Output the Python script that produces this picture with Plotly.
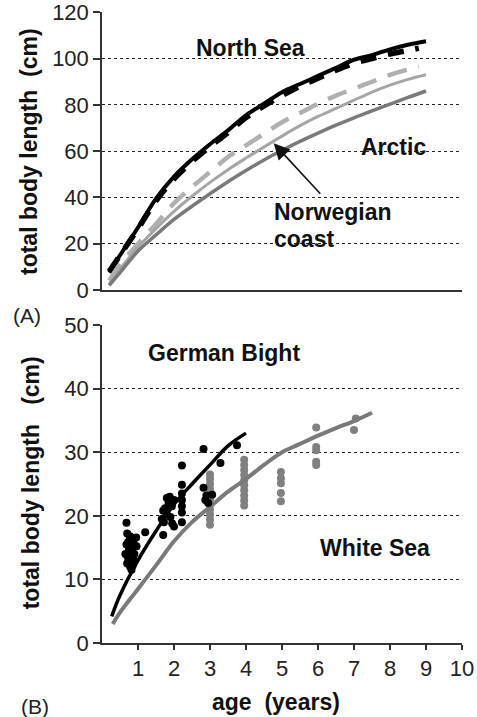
import plotly.graph_objects as go

# ---------------- data: panel A (growth curves) ----------------
ns_age = [0.2, 0.5, 1, 1.5, 2, 2.5, 3, 3.5, 4, 4.5, 5, 5.5, 6, 6.5, 7, 7.5, 8, 8.5, 9]
ns_solid = [7.5, 15, 27, 39.5, 49, 56.5, 63, 69, 75.5, 80.5, 85.5, 89, 92.5, 96, 99.5, 101.5, 104, 106, 107.5]
nsd_age = [0.2, 0.5, 1, 1.5, 2, 2.5, 3, 3.5, 4, 4.5, 5, 5.5, 6, 6.5, 7, 7.5, 8, 8.5, 8.8]
ns_dash = [8, 15, 26.5, 38.5, 48, 55.5, 62, 68, 74.5, 79.5, 84, 88, 91.5, 95, 98, 100, 102, 103.5, 104.5]
nc_dash = [4, 11, 20, 28.5, 37.5, 44.5, 51, 57.5, 62.5, 67.5, 72.5, 76.5, 80.5, 84, 87, 90, 93, 95.3, 96.5]
nc_solid = [2.5, 9, 18.5, 26.5, 34, 40.5, 46.5, 52, 57, 61.8, 66.5, 71, 75, 78.5, 82, 85.5, 88.5, 91, 93]
arctic = [2, 7.5, 16.8, 23.8, 30.5, 36.2, 41.6, 46.8, 51.6, 56.2, 60.3, 64.2, 67.8, 71.2, 74.4, 77.4, 80.3, 83.2, 86]

# ---------------- data: panel B (German Bight / White Sea) ----------------
gb_pts_age = [0.65, 0.68, 0.70, 0.72, 0.75, 0.78, 0.80, 0.82, 0.85, 0.88, 0.90, 0.70, 0.75, 0.80,
              0.85, 0.90, 0.72, 0.78, 0.83, 0.88, 0.95, 0.68, 0.73, 0.96, 1.20, 1.70, 1.66, 1.70,
              1.75, 1.80, 1.85, 1.90, 1.95, 2.00, 1.72, 1.80, 1.88, 1.94, 2.00, 2.22, 2.22, 2.22,
              2.22, 2.22, 2.22, 2.22, 2.82, 2.82, 2.87, 2.90, 2.95, 3.06, 3.29, 3.75]
gb_pts_len = [14.0, 15.5, 12.5, 13.5, 16.0, 12.0, 14.5, 11.5, 15.0, 13.0, 16.5, 17.2, 14.8, 13.2,
              12.2, 14.0, 15.8, 16.8, 13.8, 15.6, 16.6, 18.9, 12.8, 15.2, 17.4, 17.0, 19.5, 20.8,
              21.2, 22.8, 22.0, 19.8, 18.8, 22.5, 19.0, 20.2, 23.0, 21.5, 18.3, 27.9, 24.9, 23.5,
              22.5, 21.5, 20.5, 19.0, 30.5, 24.4, 22.5, 23.2, 22.0, 23.3, 28.3, 31.1]
gb_line_age = [0.27, 0.5, 1, 1.5, 2, 2.5, 3, 3.5, 4]
gb_line_len = [4.2, 7.5, 13, 17.6, 21.8, 25, 28, 31, 33]

ws_pts_age = [3.0] * 11 + [3.95] * 10 + [4.97] * 5 + [5.95] * 5 + [7.0, 7.05]
ws_pts_len = [18.6, 19.4, 20.2, 21.0, 21.8, 22.6, 23.4, 24.2, 25.0, 25.8, 26.5,
              21.6, 22.4, 23.2, 24.0, 24.8, 25.6, 26.4, 27.2, 28.0, 28.8,
              22.3, 23.6, 25.1, 25.9, 26.9,
              28.0, 28.5, 30.3, 30.8, 33.9,
              33.5, 35.3]
ws_line_age = [0.3, 0.5, 1, 1.5, 2, 2.5, 3, 3.5, 4, 4.5, 5, 5.5, 6, 6.5, 7, 7.5]
ws_line_len = [3.0, 4.8, 8.5, 12.2, 16, 19, 21.4, 23.8, 25.8, 28, 30, 31.3, 32.6, 33.8, 34.9, 36.2]

top_ticks = [0, 20, 40, 60, 80, 100, 120]
bot_yticks = [0, 10, 20, 30, 40, 50]
bot_xticks = [1, 2, 3, 4, 5, 6, 7, 8, 9, 10]

FONT = "Liberation Sans, Arial, sans-serif"
BLACK = "#000000"
LIGHT = "#b0b0b0"
LIGHT2 = "#a6a6a6"
DARK = "#7a7a7a"

W, H = 477, 717


def px(x):
    return x / W


def py(y):
    return 1 - y / H


fig = go.Figure()

# Panel A traces (xaxis/yaxis)
fig.add_trace(go.Scatter(x=ns_age, y=ns_solid, mode="lines", line=dict(color=BLACK, width=4, shape="spline"),
                         xaxis="x", yaxis="y", showlegend=False))
fig.add_trace(go.Scatter(x=nsd_age, y=ns_dash, mode="lines",
                         line=dict(color=BLACK, width=5.5, dash="16px,12px", shape="spline"),
                         xaxis="x", yaxis="y", showlegend=False))
fig.add_trace(go.Scatter(x=nsd_age, y=nc_dash, mode="lines",
                         line=dict(color=LIGHT, width=4.5, dash="20px,12px", shape="spline"),
                         xaxis="x", yaxis="y", showlegend=False))
fig.add_trace(go.Scatter(x=ns_age, y=nc_solid, mode="lines", line=dict(color=LIGHT2, width=3, shape="spline"),
                         xaxis="x", yaxis="y", showlegend=False))
fig.add_trace(go.Scatter(x=ns_age, y=arctic, mode="lines", line=dict(color=DARK, width=3.5, shape="spline"),
                         xaxis="x", yaxis="y", showlegend=False))

# Panel B traces (xaxis2/yaxis2)
fig.add_trace(go.Scatter(x=ws_pts_age, y=ws_pts_len, mode="markers",
                         marker=dict(color="#808080", size=8),
                         xaxis="x2", yaxis="y2", showlegend=False))
fig.add_trace(go.Scatter(x=ws_line_age, y=ws_line_len, mode="lines",
                         line=dict(color=DARK, width=4, shape="spline"),
                         xaxis="x2", yaxis="y2", showlegend=False))
fig.add_trace(go.Scatter(x=gb_pts_age, y=gb_pts_len, mode="markers",
                         marker=dict(color=BLACK, size=8),
                         xaxis="x2", yaxis="y2", showlegend=False))
fig.add_trace(go.Scatter(x=gb_line_age, y=gb_line_len, mode="lines",
                         line=dict(color=BLACK, width=3.5, shape="spline"),
                         xaxis="x2", yaxis="y2", showlegend=False))

xdom = [px(102), px(462)]
axis_common = dict(showline=True, linecolor="#333333", linewidth=1.5, zeroline=False, automargin=False,
                   ticklabeloverflow="allow",
                   tickfont=dict(family=FONT, size=22, color="#222222"))

fig.update_layout(
    template="none",
    width=W, height=H, autosize=False,
    margin=dict(l=0, r=0, t=0, b=0, pad=0, autoexpand=False),
    paper_bgcolor="white", plot_bgcolor="white",
    xaxis=dict(domain=xdom, range=[0, 10], anchor="y", showgrid=False, showticklabels=False,
               ticks="", **axis_common),
    yaxis=dict(domain=[py(290), py(12.3)], range=[0, 120], anchor="x",
               tickvals=top_ticks, ticks="outside", ticklen=7, tickcolor="#333333", tickwidth=1.5,
               showgrid=True, gridcolor="#222222", griddash="dot", gridwidth=1.3, **axis_common),
    xaxis2=dict(domain=xdom, range=[0, 10], anchor="y2", showgrid=False,
                tickvals=bot_xticks, ticks="outside", ticklen=5, tickcolor="#333333", tickwidth=1.5,
                **axis_common),
    yaxis2=dict(domain=[py(643), py(325)], range=[0, 50], anchor="x2",
                tickvals=bot_yticks, ticks="outside", ticklen=7, tickcolor="#333333", tickwidth=1.5,
                showgrid=True, gridcolor="#222222", griddash="dot", gridwidth=1.3, **axis_common),
)

bold = dict(family=FONT, size=23, color="#111111")
C = dict(xanchor="center", yanchor="middle", showarrow=False)
ann = []
# Panel A labels
ann.append(dict(x=4.12, y=104.6, xref="x", yref="y", text="<b>North Sea</b>", font=bold, **C))
ann.append(dict(x=8.09, y=62.0, xref="x", yref="y", text="<b>Arctic</b>", font=bold, **C))
ann.append(dict(x=4.73, y=33.9, xref="x", yref="y", text="<b>Norwegian</b>", showarrow=False,
                xanchor="left", yanchor="middle", font=bold))
ann.append(dict(x=4.73, y=21.9, xref="x", yref="y", text="<b>coast</b>", showarrow=False,
                xanchor="left", yanchor="middle", font=bold))
ann.append(dict(x=4.77, y=63.4, xref="x", yref="y", text="", showarrow=True, ax=48, ay=52,
                axref="pixel", ayref="pixel", arrowhead=2, arrowsize=2, arrowwidth=1.6,
                arrowcolor="#111111"))
# Panel B labels
ann.append(dict(x=3.38, y=45.6, xref="x2", yref="y2", text="<b>German Bight</b>", font=bold, **C))
ann.append(dict(x=7.58, y=15.0, xref="x2", yref="y2", text="<b>White Sea</b>", font=bold, **C))
# axis titles and panel letters
ann.append(dict(x=px(28.3), y=py(151.7), xref="paper", yref="paper",
                text="<b>total body length\u00a0\u00a0(cm)</b>", textangle=-90, font=bold, **C))
ann.append(dict(x=px(31.0), y=py(483.3), xref="paper", yref="paper",
                text="<b>total body length\u00a0\u00a0\u00a0(cm)</b>", textangle=-90, font=bold, **C))
ann.append(dict(x=px(275.8), y=py(701.7), xref="paper", yref="paper",
                text="<b>age\u00a0\u00a0(years)</b>", font=bold, **C))
ann.append(dict(x=px(27), y=py(315), xref="paper", yref="paper", text="(A)",
                font=dict(family=FONT, size=21, color="#222222"), **C))
ann.append(dict(x=px(35), y=py(706), xref="paper", yref="paper", text="(B)",
                font=dict(family=FONT, size=21, color="#222222"), **C))
fig.update_layout(annotations=ann)

fig.write_html(
    "out.html",
    config={"displayModeBar": False},
    post_script="document.body.style.margin='0';document.body.style.overflow='hidden';"
                "document.documentElement.style.overflow='hidden';",
)
